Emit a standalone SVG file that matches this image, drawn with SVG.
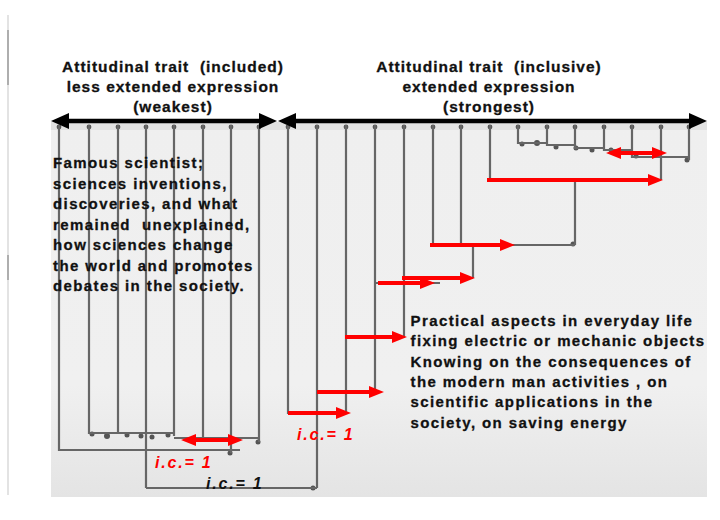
<svg xmlns="http://www.w3.org/2000/svg" width="720" height="520" viewBox="0 0 720 520">
<style>
.h{font-family:"Liberation Sans",Arial,sans-serif;font-weight:bold;font-size:15.5px;letter-spacing:1px;fill:#111;stroke:#111;stroke-width:0.3px;text-anchor:middle}
.b{font-family:"Liberation Sans",Arial,sans-serif;font-weight:bold;font-size:15px;letter-spacing:1.4px;fill:#111;stroke:#111;stroke-width:0.3px}
.ic{font-family:"Liberation Sans",Arial,sans-serif;font-weight:bold;font-style:italic;font-size:16px;letter-spacing:1.8px}
.den{fill:none;stroke:#666;stroke-width:2.2;filter:url(#soft)}
.ra{stroke:#ff0000;stroke-width:4;fill:none;marker-end:url(#rh)}
.rd{stroke:#ff0000;stroke-width:4;fill:none;marker-end:url(#rh);marker-start:url(#rh)}
.ka{stroke:#000;stroke-width:4.5;fill:none;marker-end:url(#kh);marker-start:url(#kh)}
</style>
<defs>
<filter id="soft" x="-5%" y="-5%" width="110%" height="110%"><feGaussianBlur stdDeviation="0.7"/></filter>
<linearGradient id="bg" x1="0" y1="0" x2="0" y2="1">
<stop offset="0" stop-color="#efefef"/>
<stop offset="0.7" stop-color="#f0f0f0"/>
<stop offset="1" stop-color="#e4e4e4"/>
</linearGradient>
<marker id="rh" viewBox="0 0 15 12" refX="8" refY="6" markerWidth="15" markerHeight="12" markerUnits="userSpaceOnUse" orient="auto-start-reverse"><path d="M0,0 L15,6 L0,12 z" fill="#ff0000"/></marker>
<marker id="kh" viewBox="0 0 18 16" refX="9" refY="8" markerWidth="18" markerHeight="16" markerUnits="userSpaceOnUse" orient="auto-start-reverse"><path d="M0,0 L18,8 L0,16 z" fill="#000"/></marker>
</defs>
<rect width="720" height="520" fill="#fff"/>
<g id="frame-line">
<line x1="8" y1="15" x2="8" y2="495" stroke="#d0d0d0" stroke-width="1.2"/>
<line x1="8" y1="30" x2="8" y2="85" stroke="#8a8a8a" stroke-width="1.2"/>
<line x1="8" y1="255" x2="8" y2="280" stroke="#8a8a8a" stroke-width="1.2"/>
</g>
<g id="scan-background">
<rect x="51" y="122" width="656" height="375" fill="url(#bg)"/>
<rect x="51" y="122" width="656" height="8" fill="#e2e2e2"/>
</g>
<g id="dendrogram">
<g fill="#555" filter="url(#soft)">
<circle cx="59" cy="127" r="2.4"/><circle cx="89" cy="127" r="2.4"/><circle cx="118" cy="127" r="2.4"/><circle cx="146" cy="127" r="2.4"/><circle cx="174" cy="127" r="2.4"/><circle cx="203" cy="127" r="2.4"/><circle cx="231" cy="127" r="2.4"/><circle cx="259" cy="127" r="2.4"/><circle cx="288" cy="127" r="2.4"/><circle cx="317" cy="127" r="2.4"/><circle cx="346" cy="127" r="2.4"/><circle cx="375" cy="127" r="2.4"/><circle cx="404" cy="127" r="2.4"/><circle cx="433" cy="127" r="2.4"/><circle cx="461" cy="127" r="2.4"/><circle cx="490" cy="127" r="2.4"/><circle cx="518" cy="127" r="2.4"/><circle cx="547" cy="127" r="2.4"/><circle cx="575" cy="127" r="2.4"/><circle cx="604" cy="127" r="2.4"/><circle cx="632" cy="127" r="2.4"/><circle cx="661" cy="127" r="2.4"/><circle cx="689" cy="127" r="2.4"/>
<circle cx="522" cy="144" r="2.5"/><circle cx="537" cy="143" r="3"/><circle cx="556" cy="147" r="2.5"/><circle cx="576" cy="148" r="2.5"/><circle cx="592" cy="150" r="2.5"/><circle cx="611" cy="150" r="2.5"/><circle cx="636" cy="156" r="2.5"/><circle cx="687" cy="160" r="2.5"/>
<circle cx="573" cy="244" r="2.5"/><circle cx="313" cy="488" r="2.5"/>
<circle cx="92" cy="434" r="2.5"/><circle cx="107" cy="436" r="3"/><circle cx="127" cy="435" r="2.5"/><circle cx="141" cy="436" r="2.5"/><circle cx="152" cy="437" r="2.5"/><circle cx="168" cy="435" r="2.5"/><circle cx="230" cy="453" r="2.5"/><circle cx="258" cy="442" r="2.5"/>
</g>
<path class="den" d="M59,125 V450 H240 M89,125 V433 H174 M118,125 V434 M146,125 V488 M174,125 V436 M203,125 V438 M174,438 H259 M231,125 V453 M259,125 V442 M146,488 H317"/>
<path class="den" d="M288,125 V413 H347 M317,125 V488 M317,392 H377 M346,125 V413 M346,337 H405 M375,125 V392 M375,283 H440 M404,125 V337 M404,278 H473 M433,125 V245 H575 M461,125 V245 M473,245 V278 M490,125 V180 H661 M575,180 V245 M661,125 V180"/>
<path class="den" d="M518,125 V143 H547 M547,125 V145 H575 M575,125 V148 H604 M604,125 V150 H632 M632,125 V157 H689 M689,125 V160"/>
</g>
<g id="axis-arrows">
<line class="ka" x1="60" y1="121" x2="268" y2="121"/>
<line class="ka" x1="287" y1="121" x2="698" y2="121"/>
</g>
<g id="connectors">
<line class="rd" x1="613" y1="153" x2="660" y2="153"/>
<line class="ra" x1="487" y1="180" x2="656" y2="180"/>
<line class="ra" x1="430" y1="245" x2="508" y2="245"/>
<line class="ra" x1="402" y1="278" x2="468" y2="278"/>
<line class="ra" x1="378" y1="283" x2="428" y2="283"/>
<line class="ra" x1="345" y1="337" x2="400" y2="337"/>
<line class="ra" x1="317" y1="392" x2="377" y2="392"/>
<line class="ra" x1="288" y1="413" x2="344" y2="413"/>
<line class="rd" x1="188" y1="440" x2="236" y2="440"/>
</g>
<g id="heading-left">
<text class="h" x="173" y="72" xml:space="preserve">Attitudinal trait  (included)</text>
<text class="h" x="173" y="92">less extended expression</text>
<text class="h" x="173" y="111.5">(weakest)</text>
</g>
<g id="heading-right">
<text class="h" x="489" y="72" xml:space="preserve">Attitudinal trait  (inclusive)</text>
<text class="h" x="489" y="92">extended expression</text>
<text class="h" x="489" y="111.5">(strongest)</text>
</g>
<g id="text-left">
<text class="b" x="53" y="168.3">Famous scientist;</text>
<text class="b" x="53" y="188.8">sciences inventions,</text>
<text class="b" x="53" y="209.3">discoveries, and what</text>
<text class="b" x="53" y="229.8" xml:space="preserve">remained  unexplained,</text>
<text class="b" x="53" y="250.3">how sciences change</text>
<text class="b" x="53" y="270.8">the world and promotes</text>
<text class="b" x="53" y="291.3">debates in the society.</text>
</g>
<g id="text-right">
<text class="b" x="410.5" y="325.5">Practical aspects in everyday life</text>
<text class="b" x="410.5" y="346">fixing electric or mechanic objects</text>
<text class="b" x="410.5" y="366.5">Knowing on the consequences of</text>
<text class="b" x="410.5" y="387">the modern man activities , on</text>
<text class="b" x="410.5" y="407.3">scientific applications in the</text>
<text class="b" x="410.5" y="427.5">society, on saving energy</text>
</g>
<g id="ic-labels">
<text class="ic" x="155" y="468" fill="#ff0000">i.c.= 1</text>
<text class="ic" x="206" y="489" fill="#111">i.c.= 1</text>
<text class="ic" x="297" y="440" fill="#ff0000">i.c.= 1</text>
</g>
</svg>
